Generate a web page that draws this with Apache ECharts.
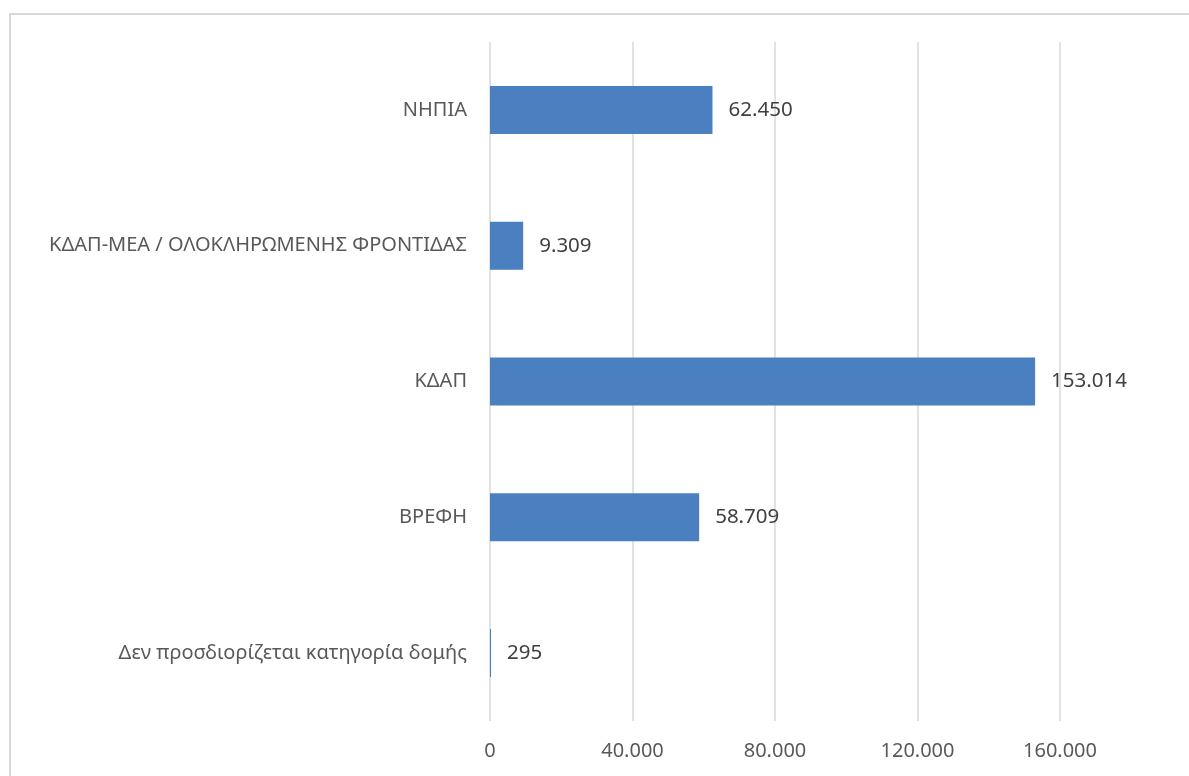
<!DOCTYPE html>
<html>
<head>
<meta charset="utf-8">
<script src="https://cdn.jsdelivr.net/npm/echarts@6/dist/echarts.min.js"></script>
<style>
html,body{margin:0;padding:0;background:#fff;}
#frame{position:absolute;left:9px;top:13px;width:1300px;height:900px;border:2px solid #d9d9d9;box-sizing:border-box;}
#chart{position:absolute;left:0;top:0;width:1189px;height:776px;}
</style>
</head>
<body>
<div id="frame"></div>
<div id="chart"></div>
<script>
const categories = [
  "Δεν προσδιορίζεται κατηγορία δομής",
  "ΒΡΕΦΗ",
  "ΚΔΑΠ",
  "ΚΔΑΠ-ΜΕΑ / ΟΛΟΚΛΗΡΩΜΕΝΗΣ ΦΡΟΝΤΙΔΑΣ",
  "ΝΗΠΙΑ"
];
const values = [295, 58709, 153014, 9309, 62450];
const axisMin = 0;
const axisMax = 160000;
const axisStep = 40000;

function fmt(v){
  return String(Math.round(v)).replace(/\B(?=(\d{3})+(?!\d))/g, ".");
}

const chart = echarts.init(document.getElementById('chart'), null, {renderer:'canvas'});
chart.setOption({
  animation:false,
  backgroundColor:'transparent',
  textStyle:{fontFamily:'"Noto Sans", "Open Sans", sans-serif'},
  grid:{left:490, right:129, top:42, bottom:55},
  xAxis:{
    type:'value', min:axisMin, max:axisMax, interval:axisStep,
    axisLine:{show:false}, axisTick:{show:false},
    splitLine:{show:true, lineStyle:{color:'#d9d9d9', width:1.5}},
    axisLabel:{color:'#595959', fontSize:20, margin:20, formatter:fmt}
  },
  yAxis:{
    type:'category', data:categories,
    axisLine:{show:false}, axisTick:{show:false},
    axisLabel:{color:'#595959', fontSize:20, margin:23}
  },
  series:[{
    type:'bar', data:values, barWidth:48,
    itemStyle:{color:'#4a80c0'},
    label:{show:true, position:'right', distance:16, color:'#404040', fontSize:20.5, formatter:p=>fmt(p.value)}
  }]
});
</script>
</body>
</html>
